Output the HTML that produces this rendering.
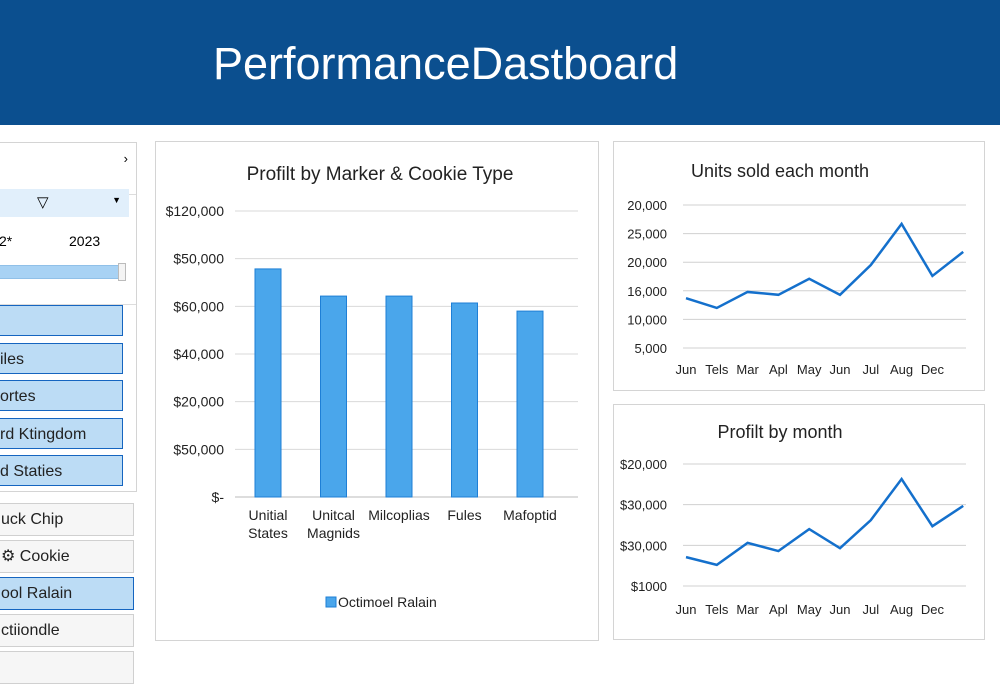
<!DOCTYPE html>
<html><head><meta charset="utf-8"><style>
body{margin:0;width:1000px;height:667px;background:#fff;font-family:"Liberation Sans",sans-serif;position:relative;overflow:hidden}
.hdr{position:absolute;left:0;top:0;width:1000px;height:125px;background:#0b4f8f}
.hdr h1{position:absolute;left:213px;top:38px;margin:0;color:#fff;font-weight:normal;font-size:45px;letter-spacing:0px}
.card{position:absolute;border:1px solid #d4d4d4;background:#fff}
.btn{position:absolute;left:-10px;width:134px;height:31px;border:1px solid #1565c0;background:#bcdcf5;font-size:16px;line-height:31px;color:#222;box-sizing:border-box;padding-left:10px}
.btn2{position:absolute;left:-10px;width:144px;height:33px;border:1px solid #d0d0d0;background:#f6f6f6;font-size:16px;line-height:31px;color:#222;box-sizing:border-box;padding-left:10px}
svg text{font-family:"Liberation Sans",sans-serif;fill:#222}
</style></head><body>
<div class="hdr"><h1>PerformanceDastboard</h1></div>

<div class="card" style="left:-2px;top:142px;width:137px;height:348px">
 <div style="position:absolute;right:8px;top:8px;font-size:13px">›</div>
 <div style="position:absolute;left:0;top:51px;width:137px;border-top:1px solid #ddd"></div>
 <div style="position:absolute;left:0;top:46px;width:130px;height:28px;background:#e1effb">
  <span style="position:absolute;left:38px;top:4px;font-size:15px">▽</span><span style="position:absolute;right:8px;top:6px;font-size:9px">▼</span></div>
 <div style="position:absolute;left:0;top:90px;font-size:14px">2*</div>
 <div style="position:absolute;left:70px;top:90px;font-size:14px">2023</div>
 <div style="position:absolute;left:0;top:122px;width:120px;height:12px;background:#a8d2f4;border:1px solid #90c0e8"></div>
 <div style="position:absolute;left:119px;top:120px;width:6px;height:16px;border:1px solid #bbb;background:#f4f4f4"></div>
 <div style="position:absolute;left:0;top:161px;width:137px;border-top:1px solid #ddd"></div>
 <div class="btn" style="top:162px"></div>
 <div class="btn" style="top:200px">iles</div>
 <div class="btn" style="top:237px">ortes</div>
 <div class="btn" style="top:275px">rd Ktingdom</div>
 <div class="btn" style="top:312px">d Staties</div>
</div>
<div class="btn2" style="top:503px">uck Chip</div>
<div class="btn2" style="top:540px">⚙ Cookie</div>
<div class="btn2" style="top:577px;background:#bcdcf5;border-color:#1565c0">ool Ralain</div>
<div class="btn2" style="top:614px">ctiiondle</div>
<div class="btn2" style="top:651px"></div>

<div class="card" style="left:155px;top:141px;width:442px;height:498px"></div>
<div class="card" style="left:613px;top:141px;width:370px;height:248px"></div>
<div class="card" style="left:613px;top:404px;width:370px;height:234px"></div>

<svg id="svg" width="1000" height="667" style="position:absolute;left:0;top:0"></svg>

<script>
const barCategories=[["Unitial","States"],["Unitcal","Magnids"],["Milcoplias"],["Fules"],["Mafoptid"]];
const barValues=[95700,84300,84300,81400,78000];
const barTickValues=[0,20000,40000,60000,80000,100000,120000];
const barTickLabels=["$-","$50,000","$20,000","$40,000","$60,000","$50,000","$120,000"];
const monthLabels=["Jun","Tels","Mar","Apl","May","Jun","Jul","Aug","Dec"];
const unitsValues=[13.7,12.0,14.8,14.3,17.1,14.3,19.5,26.7,17.6,21.8];
const unitsTickValues=[5,10,15,20,25,30];
const unitsTickLabels=["5,000","10,000","16,000","20,000","25,000","20,000"];
const profitValues=[7.1,5.2,10.6,8.6,14.0,9.3,16.2,26.3,14.7,19.7];
const profitTickValues=[0,10,20,30];
const profitTickLabels=["$1000","$30,000","$30,000","$20,000"];

const svg=document.getElementById('svg');const NS="http://www.w3.org/2000/svg";
function mk(tag,attrs,txt){const e=document.createElementNS(NS,tag);for(const k in attrs)e.setAttribute(k,attrs[k]);if(txt!==undefined)e.textContent=txt;svg.appendChild(e);return e;}

let t=mk('text',{x:380,y:180,'font-size':19,'text-anchor':'middle'},'Profilt by Marker & Cookie Type');

const by=v=>497-(v/120000)*286;
const bx=i=>268+i*65.5;
barTickValues.forEach((v,i)=>{
 let g=mk('line',{x1:235,x2:578,y1:by(v),y2:by(v),stroke:i==0?'#bbb':'#d9d9d9'});
 
 let l=mk('text',{x:224,y:by(v)+5,'font-size':14,'text-anchor':'end'},barTickLabels[i]);
 
});
barValues.forEach((v,i)=>{
 let r=mk('rect',{x:bx(i)-13,y:by(v),width:26,height:497-by(v),fill:'#4aa6eb',stroke:'#1e7fd6','stroke-width':1});
 
 barCategories[i].forEach((s,j)=>{
  let l=mk('text',{x:bx(i),y:520+j*18,'font-size':14,'text-anchor':'middle'},s);
  
 });
});
let lg=mk('rect',{x:326,y:597,width:10,height:10,fill:'#4aa6eb',stroke:'#1e7fd6'});

let lt=mk('text',{x:338,y:607,'font-size':14},'Octimoel Ralain');


function lineChart(name,title,titleY,vals,tv,tl,y0,y1,d0,d1,labelY){
 let tt=mk('text',{x:780,y:titleY,'font-size':18,'text-anchor':'middle'},title);
 
 const y=v=>y0-(v-d0)/(d1-d0)*(y0-y1);
 const x=i=>686+i*30.8;
 tv.forEach((v,i)=>{
  let g=mk('line',{x1:683,x2:966,y1:y(v),y2:y(v),stroke:'#d0d0d0'});
  
  let l=mk('text',{x:667,y:y(v)+5,'font-size':13,'text-anchor':'end'},tl[i]);
  
 });
 monthLabels.forEach((m,i)=>{
  let l=mk('text',{x:x(i),y:labelY,'font-size':13,'text-anchor':'middle'},m);
  
 });
 let p=mk('polyline',{points:vals.map((v,i)=>x(i)+','+y(v)).join(' '),fill:'none',stroke:'#1470cc','stroke-width':2.5,'stroke-linejoin':'miter'});
 
}
lineChart('units','Units sold each month',177,unitsValues,unitsTickValues,unitsTickLabels,348,205,5,30,374);
lineChart('profit','Profilt by month',438,profitValues,profitTickValues,profitTickLabels,586,464,0,30,614);
</script>
</body></html>
